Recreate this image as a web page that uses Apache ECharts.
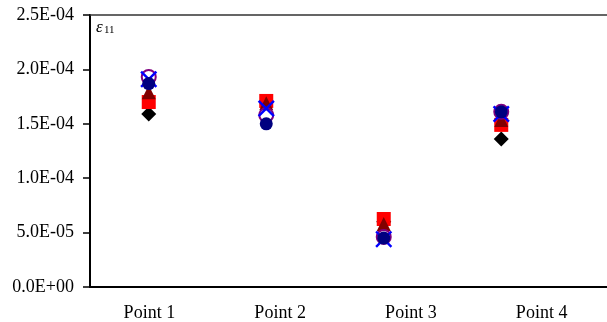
<!DOCTYPE html>
<html>
<head>
<meta charset="utf-8">
<script src="https://cdn.jsdelivr.net/npm/echarts@6/dist/echarts.min.js"></script>
<style>
  html, body { margin: 0; padding: 0; background: #fff; }
  #chart { width: 607px; height: 322px; }
</style>
</head>
<body>
<div id="chart"></div>
<script>
// Measurement locations along the horizontal axis
const categories = ['Point 1', 'Point 2', 'Point 3', 'Point 4'];

// Strain component e11 at each location, one array per data set
const diamondVals  = [1.59e-4, 1.70e-4, 0.60e-4, 1.36e-4];
const squareVals   = [1.70e-4, 1.71e-4, 0.625e-4, 1.49e-4];
const triangleVals = [1.79e-4, 1.69e-4, 0.58e-4, 1.535e-4];
const ringVals     = [1.93e-4, 1.58e-4, 0.46e-4, 1.61e-4];
const crossVals    = [1.91e-4, 1.64e-4, 0.44e-4, 1.59e-4];
const dotVals      = [1.87e-4, 1.50e-4, 0.45e-4, 1.61e-4];

// Vertical axis tick labels
const yTickLabels = ['0.0E+00', '5.0E-05', '1.0E-04', '1.5E-04', '2.0E-04', '2.5E-04'];
const yStep = 5e-5;

const FONT = '"Liberation Serif", "Times New Roman", serif';
const CROSS = 'path://M0,1 L1,0 L5,4 L9,0 L10,1 L6,5 L10,9 L9,10 L5,6 L1,10 L0,9 L4,5 Z';

const toPoints = vals => vals.map((v, i) => [i + 1, v]);

function markSeries(name, vals, symbol, size, itemStyle, z) {
  return {
    name, type: 'scatter', xAxisIndex: 0, yAxisIndex: 0,
    data: toPoints(vals), symbol, symbolSize: size,
    itemStyle: Object.assign({ opacity: 1 }, itemStyle),
    z, silent: true
  };
}

const chart = echarts.init(document.getElementById('chart'), null, { renderer: 'canvas' });
chart.setOption({
  animation: false,
  backgroundColor: '#fff',
  grid: [
    { left: 90, right: 0, top: 15, bottom: 35 },
    { left: 84, right: 0, top: 15, bottom: 35 }
  ],
  xAxis: [
    {
      gridIndex: 0, type: 'value', min: 0.5, max: 4.9,
      axisLine: { show: true, onZero: false, lineStyle: { color: '#000', width: 2 } },
      axisTick: { show: false }, axisLabel: { show: false }, splitLine: { show: false }
    },
    {
      gridIndex: 0, type: 'value', position: 'top', min: 0.5, max: 4.9,
      axisLine: { show: true, onZero: false, lineStyle: { color: '#333', width: 1.5 } },
      axisTick: { show: false }, axisLabel: { show: false }, splitLine: { show: false }
    },
    {
      gridIndex: 1, type: 'category', data: categories, boundaryGap: true,
      axisLine: { show: false }, axisTick: { show: false }, splitLine: { show: false },
      axisLabel: { color: '#000', fontFamily: FONT, fontSize: 18, margin: 18 }
    }
  ],
  yAxis: [
    {
      gridIndex: 0, type: 'value', min: 0, max: 2.5e-4, interval: yStep,
      axisLine: { show: true, lineStyle: { color: '#000', width: 2 } },
      axisTick: { show: true, inside: false, length: 7, lineStyle: { color: '#000', width: 1.5 } },
      splitLine: { show: false },
      axisLabel: {
        color: '#000', fontFamily: FONT, fontSize: 18, margin: 16,
        formatter: v => yTickLabels[Math.round(v / yStep)]
      }
    },
    { gridIndex: 1, type: 'value', show: false, min: 0, max: 1 }
  ],
  graphic: [
    { type: 'text', left: 96, top: 19,
      style: { text: 'ε', font: 'italic 17px ' + FONT, fill: '#000' } },
    { type: 'text', left: 104, top: 25,
      style: { text: '11', font: '11px ' + FONT, fill: '#000' } }
  ],
  series: [
    markSeries('diamond', diamondVals, 'diamond', 15, { color: '#000' }, 2),
    markSeries('square', squareVals, 'rect', 14, { color: '#ff0000' }, 3),
    markSeries('triangle', triangleVals, 'triangle', 14, { color: '#800000' }, 4),
    markSeries('ring', ringVals, 'circle', 14,
      { color: 'rgba(0,0,0,0)', borderColor: '#800080', borderWidth: 2 }, 5),
    markSeries('cross', crossVals, CROSS, 17, { color: '#0000ff' }, 6),
    markSeries('dot', dotVals, 'circle', 13, { color: '#000080' }, 7)
  ]
});
</script>
</body>
</html>
